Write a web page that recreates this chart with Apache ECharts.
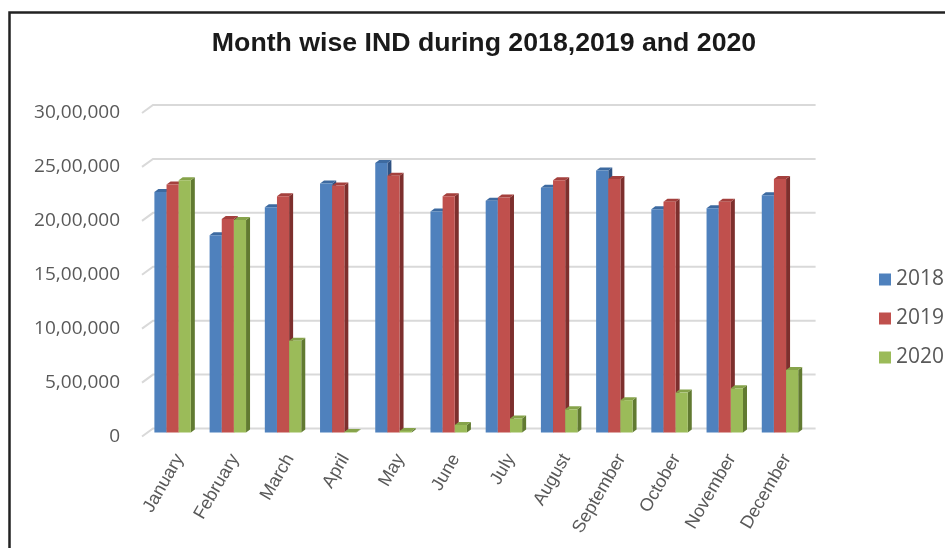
<!DOCTYPE html>
<html>
<head>
<meta charset="utf-8">
<script src="https://cdn.jsdelivr.net/npm/echarts@6/dist/echarts.min.js"></script>
<style>
html,body{margin:0;padding:0;background:#fff;}
#chart{width:945px;height:548px;}
</style>
</head>
<body>
<div id="chart"></div>
<script>
// ---- data ----
const categories = ['January','February','March','April','May','June','July','August','September','October','November','December'];
const seriesNames = ['2018','2019','2020'];
const values2018 = [2230000, 1830000, 2090000, 2310000, 2500000, 2050000, 2150000, 2270000, 2430000, 2070000, 2080000, 2200000];
const values2019 = [2300000, 1980000, 2190000, 2290000, 2380000, 2190000, 2180000, 2340000, 2350000, 2140000, 2140000, 2350000];
const values2020 = [2340000, 1970000, 850000, 5000, 15000, 70000, 130000, 215000, 300000, 370000, 410000, 580000];
const yTickValues = [0, 500000, 1000000, 1500000, 2000000, 2500000, 3000000];
const yTickLabels = ['0','5,00,000','10,00,000','15,00,000','20,00,000','25,00,000','30,00,000'];

// ---- styling ----
const faceColors = ['#4f81bd', '#c0504d', '#9bbb59'];
const topColors  = ['#3d6aa0', '#a4403d', '#86a34a'];
const sideColors = ['#2f5282', '#7d2f2d', '#617a31'];
const DX = 4, DY = -3;

function barRender(si) {
  return function (params, api) {
    const cat = api.value(0), val = api.value(1);
    const base = api.coord([cat, 0]);
    const top = api.coord([cat, val]);
    const band = api.size([1, 0])[0];
    const bw = band * 0.22;
    const x0 = base[0] - 1.5 * bw + si * bw;
    const x1 = x0 + bw;
    const yt = Math.min(top[1], base[1] - 0.5);
    const yb = base[1];
    return {
      type: 'group',
      children: [
        { type: 'polygon', shape: { points: [[x1, yt], [x1 + DX, yt + DY], [x1 + DX, yb + DY], [x1, yb]] },
          style: { fill: sideColors[si] } },
        { type: 'polygon', shape: { points: [[x0, yt], [x0 + DX, yt + DY], [x1 + DX, yt + DY], [x1, yt]] },
          style: { fill: topColors[si] } },
        { type: 'rect', shape: { x: x0, y: yt, width: bw, height: yb - yt },
          style: { fill: faceColors[si] } }
      ]
    };
  };
}

function gridRender(params, api) {
  const v = api.value(1);
  const p = api.coord([0, v]);
  const cs = params.coordSys;
  const y = p[1];
  return {
    type: 'polyline',
    shape: { points: [[cs.x - 3, y + 4], [cs.x + 8, y - 4], [cs.x + cs.width + 8, y - 4]] },
    style: { stroke: '#d9d9d9', lineWidth: 2, fill: null }
  };
}

const allValues = [values2018, values2019, values2020];
const chart = echarts.init(document.getElementById('chart'));
const series = [{
  type: 'custom',
  name: '__grid',
  xAxisIndex: 0, yAxisIndex: 0,
  data: yTickValues.map(v => [0, v]),
  renderItem: gridRender,
  silent: true,
  z: 1
}];
seriesNames.forEach((n, si) => {
  series.push({
    type: 'custom',
    name: n,
    xAxisIndex: 0, yAxisIndex: 0,
    itemStyle: { color: faceColors[si] },
    data: allValues[si].map((v, i) => [i, v]),
    encode: { x: 0, y: 1 },
    renderItem: barRender(si),
    z: 2 + si
  });
});

chart.setOption({
  animation: false,
  backgroundColor: '#ffffff',
  title: {
    text: 'Month wise IND during 2018,2019 and 2020',
    left: 479, top: 25, textAlign: 'center',
    textStyle: { fontFamily: 'Liberation Sans', fontWeight: 'bold', fontSize: 26.7, color: '#1a1a1a' }
  },
  legend: {
    orient: 'vertical',
    left: 874, top: 264,
    data: seriesNames,
    icon: 'rect', itemWidth: 12, itemHeight: 12, itemGap: 18,
    textStyle: { fontFamily: 'Open Sans', fontSize: 21, color: '#595959' }
  },
  grid: [
    { left: 145, right: 137.4, top: 109, bottom: 115.5 },
    { left: 152, right: 130.4, top: 113, bottom: 111.5 }
  ],
  xAxis: [
    { type: 'category', gridIndex: 0, data: categories, show: false, boundaryGap: true },
    { type: 'category', gridIndex: 1, data: categories, boundaryGap: true,
      axisLine: { show: false }, axisTick: { show: false }, splitLine: { show: false },
      axisLabel: { interval: 0, rotate: 60, margin: 19,
        fontFamily: 'Liberation Sans', fontSize: 18, color: '#595959' } }
  ],
  yAxis: [
    { type: 'value', gridIndex: 0, min: 0, max: 3000000, interval: 500000, show: false, splitLine: { show: false } },
    { type: 'value', gridIndex: 1, min: 0, max: 3000000, interval: 500000,
      axisLine: { show: false }, axisTick: { show: false }, splitLine: { show: false },
      axisLabel: { margin: 32, fontFamily: 'Open Sans', fontSize: 19, color: '#595959',
        formatter: function (v) { const i = yTickValues.indexOf(v); return i >= 0 ? yTickLabels[i] : ''; } } }
  ],
  graphic: [{
    type: 'rect', left: 7, top: 10, silent: true, z: 100,
    shape: { width: 1100, height: 700 },
    style: { fill: null, stroke: '#222', lineWidth: 2.5 }
  }],
  series: series
});
</script>
</body>
</html>
